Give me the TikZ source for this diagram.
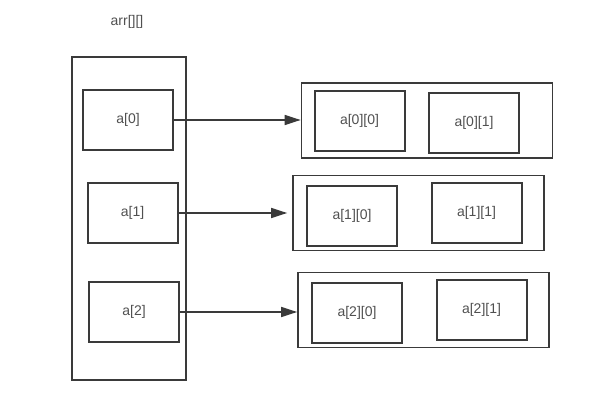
\documentclass[tikz,border=0pt]{standalone}
\usepackage{fontspec}
\setmainfont{Liberation Sans}
\usepackage{tikz}
\usetikzlibrary{positioning,arrows.meta}
\definecolor{linegray}{HTML}{3A3A3A}
\definecolor{textgray}{HTML}{505050}

\begin{document}
\begin{tikzpicture}[x=1pt, y=-1pt,
    box/.style={rectangle,draw=linegray,line width=2pt,inner sep=0pt,font=\fontsize{14}{16}\selectfont,text=textgray},
    cell/.style={box,minimum width=90pt,minimum height=60pt},
    row/.style={box,line width=1.7pt,minimum width=251pt,minimum height=75pt},
    link/.style={draw=linegray,line width=1.5pt,-{Triangle[length=16pt,width=10pt]}}]
    \useasboundingbox (0,0) rectangle (601,411);

    % left column
    \node[text=textgray,font=\fontsize{14}{16}\selectfont] (title) at (127,22) {arr[][]};
    \node[box,line width=1.7pt,minimum width=114pt,minimum height=323pt] (arr) at (129,218.5) {};
    \node[cell] (a0) at (128,120) {a[0]};
    \node[cell] (a1) at (132.5,213) {a[1]};
    \node[cell] (a2) at (134,312) {a[2]};

    % rows
    \node[row] (r0) at (427,120.5) {};
    \node[cell] (a00) at (359.5,121) {a[0][0]};
    \node[cell] (a01) at (474,123) {a[0][1]};

    \node[row] (r1) at (418.5,213) {};
    \node[cell] (a10) at (352,216) {a[1][0]};
    \node[cell] (a11) at (476.5,213) {a[1][1]};

    \node[row] (r2) at (423.5,310) {};
    \node[cell] (a20) at (357,313) {a[2][0]};
    \node[cell] (a21) at (481.5,309.5) {a[2][1]};

    % pointers
    \draw[link] (a0.east) -- (a0.east -| r0.west);
    \draw[link,shorten >=5pt] (a1.east) -- (a1.east -| r1.west);
    \draw[link] (a2.east) -- (a2.east -| r2.west);
\end{tikzpicture}
\end{document}
